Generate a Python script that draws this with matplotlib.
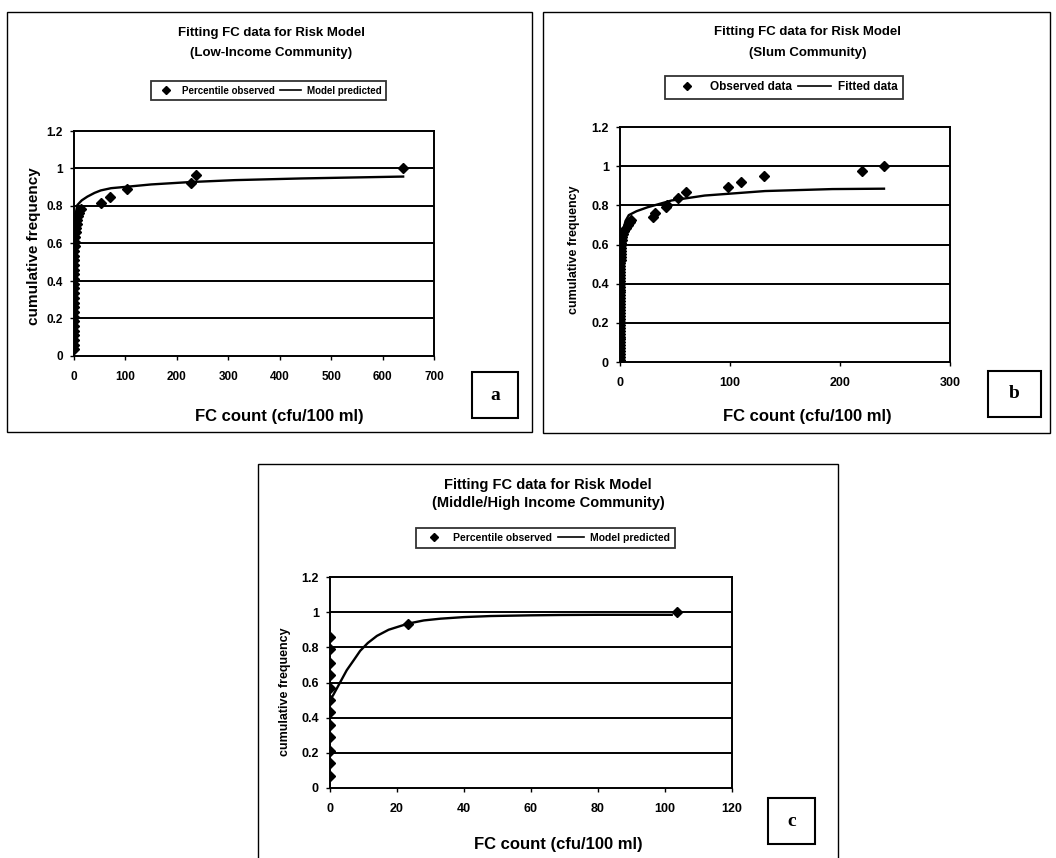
import matplotlib
matplotlib.use("Agg")
import matplotlib.pyplot as plt
from matplotlib.lines import Line2D
from matplotlib.patches import Rectangle

plt.rcParams["font.family"] = ["Liberation Sans", "DejaVu Sans"]
plt.rcParams["font.weight"] = "bold"

W, H = 1056, 858

# ---- panel a: low-income community ----
a_obs_x = [0, 0, 0, 0, 0, 0, 0, 0, 0, 0, 0, 0, 0, 0, 0, 0, 0, 0, 0, 0, 0, 0.5,
           1, 1, 2, 3, 4, 5, 6, 8, 10, 13, 52, 70, 104, 228, 237, 640]
a_obs_y = [0.035, 0.06, 0.085, 0.11, 0.135, 0.16, 0.185, 0.21, 0.235, 0.26, 0.285,
           0.31, 0.335, 0.36, 0.385, 0.41, 0.435, 0.46, 0.485, 0.51, 0.535, 0.56,
           0.585, 0.61, 0.635, 0.66, 0.685, 0.705, 0.725, 0.745, 0.765, 0.785,
           0.815, 0.85, 0.89, 0.925, 0.965, 1.0]
a_fit_x = [0.5, 1, 2, 4, 6.5, 15, 26, 40, 52, 72, 104, 150, 228, 313, 443, 640]
a_fit_y = [0.6, 0.66, 0.72, 0.77, 0.805, 0.83, 0.85, 0.87, 0.883, 0.895, 0.903,
           0.915, 0.928, 0.938, 0.947, 0.957]

# ---- panel b: slum community ----
b_obs_x = [0, 0, 0, 0, 0, 0, 0, 0, 0, 0, 0, 0, 0, 0, 0, 0, 0, 0, 0, 0, 0, 0, 0, 0,
           0, 0, 0, 0, 0, 0, 0, 0, 0, 0, 0.5, 0.5, 0.5, 0.5, 0.5, 0.5,
           1, 1.5, 2, 3, 4, 5, 7, 9, 10, 30, 32, 42, 43, 53, 60, 98, 110, 131, 220, 240]
b_obs_y = [0.01, 0.025, 0.04, 0.055, 0.07, 0.085, 0.1, 0.115, 0.13, 0.145, 0.16,
           0.175, 0.19, 0.205, 0.22, 0.235, 0.25, 0.265, 0.28, 0.295, 0.31, 0.325,
           0.34, 0.355, 0.37, 0.385, 0.4, 0.415, 0.43, 0.445, 0.46, 0.475, 0.49,
           0.505, 0.52, 0.535, 0.55, 0.565, 0.58, 0.595,
           0.61, 0.625, 0.64, 0.655, 0.67, 0.685, 0.7, 0.715, 0.725, 0.74, 0.76,
           0.79, 0.8, 0.84, 0.87, 0.895, 0.92, 0.95, 0.975, 1.0]
b_fit_x = [0, 1, 2, 3, 5, 8, 15, 25, 47, 77, 132, 193, 240]
b_fit_y = [0.0, 0.6, 0.64, 0.675, 0.72, 0.75, 0.77, 0.79, 0.825, 0.85, 0.873, 0.883, 0.885]

# ---- panel c: middle/high income community ----
c_obs_x = [0, 0, 0, 0, 0, 0, 0, 0, 0, 0, 0, 0, 23.3, 103.5]
c_obs_y = [0.07, 0.14, 0.21, 0.29, 0.36, 0.43, 0.5, 0.57, 0.64, 0.71, 0.79, 0.86,
           0.93, 1.0]
c_fit_x = [0, 1, 3, 5, 7.2, 9, 11.3, 14, 17.5, 23.3, 28, 33, 40, 48, 60, 69, 80, 90, 102]
c_fit_y = [0.5, 0.53, 0.6, 0.67, 0.73, 0.78, 0.825, 0.865, 0.9, 0.935, 0.953, 0.963,
           0.972, 0.978, 0.982, 0.984, 0.985, 0.985, 0.985]

y_ticks = [0, 0.2, 0.4, 0.6, 0.8, 1.0, 1.2]
y_labels = ["0", "0.2", "0.4", "0.6", "0.8", "1", "1.2"]

fig = plt.figure(figsize=(W / 100, H / 100), dpi=100)


def fx(px):
    return px / W


def fy(py):
    return 1 - py / H


def box(x0, y0, x1, y1, lw=1.0):
    fig.patches.append(Rectangle((fx(x0), fy(y1)), fx(x1) - fx(x0), fy(y0) - fy(y1),
                                 transform=fig.transFigure, fill=False,
                                 edgecolor="black", linewidth=lw))


def panel(rect, frame, ox, oy, fx_, fy_, xmax, xstep, title, legtxt, legbox,
          letter, letbox, xlab_xy, ylab_xy, tsize, lsize, ticksize, ylsize, hlen):
    x0, y0, x1, y1 = rect
    box(*frame)
    ax = fig.add_axes([fx(x0), fy(y1), fx(x1) - fx(x0), fy(y0) - fy(y1)])
    for yv in y_ticks[1:-1]:
        ax.axhline(yv, color="black", lw=1.4, zorder=1)
    ax.plot(fx_, fy_, color="black", lw=1.7, zorder=3)
    ax.plot(ox, oy, "D", color="black", ms=5, ls="none", zorder=4)
    ax.set_xlim(0, xmax)
    ax.set_ylim(0, 1.2)
    xt = list(range(0, xmax + 1, xstep))
    ax.set_xticks(xt)
    ax.set_xticklabels([str(v) for v in xt], fontsize=ticksize, fontweight="bold")
    ax.set_yticks(y_ticks)
    ax.set_yticklabels(y_labels, fontsize=ticksize, fontweight="bold")
    ax.tick_params(direction="out", length=3, width=1, pad=8, axis="x")
    ax.tick_params(direction="out", length=3, width=1, pad=5, axis="y")
    for s in ax.spines.values():
        s.set_linewidth(1.4)
    # titles
    cx, ty1, ty2 = title[0], title[1], title[2]
    fig.text(fx(cx), fy(ty1), "Fitting FC data for Risk Model", ha="center",
             va="center", fontsize=tsize, fontweight="bold")
    fig.text(fx(cx), fy(ty2), title[3], ha="center", va="center",
             fontsize=tsize, fontweight="bold")
    # legend
    handles = [Line2D([], [], marker="D", color="black", ls="none", ms=3.8),
               Line2D([], [], color="black", lw=1.2)]
    lx0, ly0, lx1, ly1 = legbox
    leg = fig.legend(handles, legtxt, loc="center",
                     bbox_to_anchor=(fx((lx0 + lx1) / 2), fy((ly0 + ly1) / 2)),
                     ncol=2, frameon=True, fancybox=False,
                     handlelength=hlen, handletextpad=0.6, columnspacing=0.5,
                     borderpad=0.45, prop={"weight": "bold", "size": lsize})
    leg.get_frame().set_edgecolor("black")
    leg.get_frame().set_linewidth(1.3)
    # axis titles
    fig.text(fx(xlab_xy[0]), fy(xlab_xy[1]), "FC count (cfu/100 ml)", ha="center",
             va="center", fontsize=12, fontweight="bold")
    fig.text(fx(ylab_xy[0]), fy(ylab_xy[1]), "cumulative frequency", ha="center",
             va="center", rotation=90, fontsize=ylsize, fontweight="bold")
    # panel letter
    box(*letbox, lw=1.5)
    fig.text(fx((letbox[0] + letbox[2]) / 2), fy((letbox[1] + letbox[3]) / 2), letter,
             ha="center", va="center", fontsize=14, fontweight="bold",
             family=["Liberation Serif", "DejaVu Serif"])
    return ax


panel((74, 131, 434, 356), (7, 12, 532, 432), a_obs_x, a_obs_y, a_fit_x, a_fit_y,
      700, 100, (271, 33, 53, "(Low-Income Community)"),
      ["Percentile observed", "Model predicted"], (154, 77, 383, 104),
      "a", (472, 372, 518, 418), (279, 417), (34, 246), 9.5, 7, 8.5, 11, 2.2)

panel((620, 127, 950, 362), (543, 12, 1050, 433), b_obs_x, b_obs_y, b_fit_x, b_fit_y,
      300, 100, (808, 32, 53, "(Slum Community)"),
      ["Observed data", "Fitted data"], (668, 75, 900, 100),
      "b", (988, 371, 1041, 417), (807, 417), (574, 250), 9.5, 8.5, 9, 9, 2.8)

panel((330, 577, 732, 788), (258, 464, 838, 870), c_obs_x, c_obs_y, c_fit_x, c_fit_y,
      120, 20, (548, 485, 503, "(Middle/High Income Community)"),
      ["Percentile observed", "Model predicted"], (419, 526, 672, 550),
      "c", (768, 798, 815, 844), (558, 844), (285, 692), 10.5, 7.5, 9, 9, 2.5)

fig.savefig("out.png", dpi=100)
